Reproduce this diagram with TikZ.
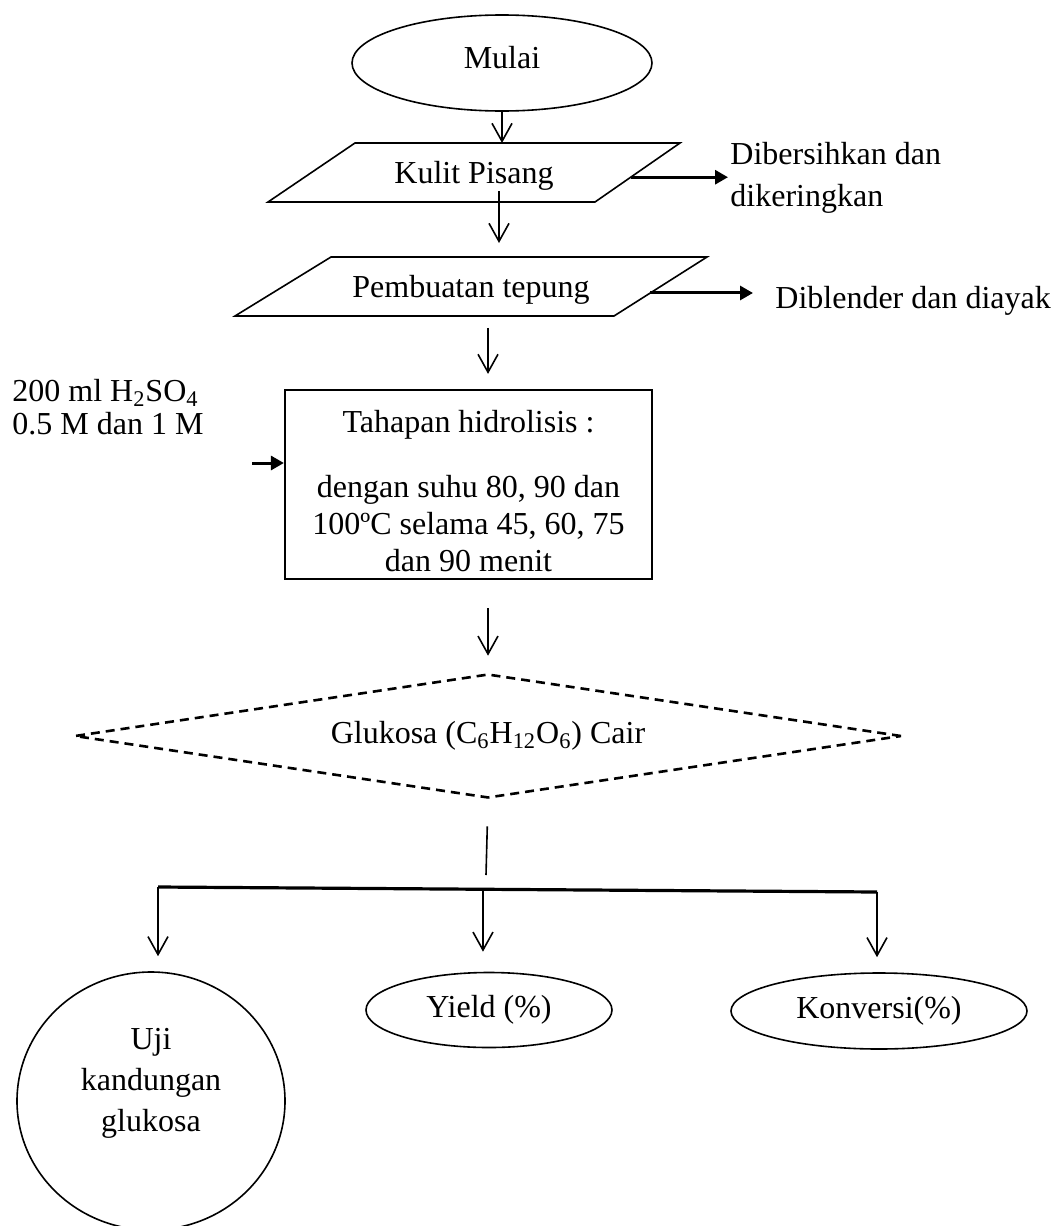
\documentclass[tikz,border=0pt]{standalone}
\usepackage{fontspec}
\setmainfont{Liberation Serif}
\usetikzlibrary{shapes.geometric,arrows.meta,calc}

\tikzset{
  txt/.style={font=\fontsize{16}{21}\selectfont, inner sep=1pt},
  box/.style={draw, line width=0.8pt},
  flow/.style={line width=0.8pt, -{Straight Barb[length=9pt,width=10pt,line width=0.8pt]}},
  side/.style={line width=1.5pt, -{Triangle[length=6.5pt,width=7pt]}},
}

\begin{document}
\begin{tikzpicture}[x=0.5pt,y=0.5pt,yscale=-1,xscale=1]
\useasboundingbox (0,0) rectangle (1051,1226);
\clip (0,0) rectangle (1051,1226);

%Shape: Ellipse
\node[box, ellipse, minimum width=150pt, minimum height=48pt] (mulai) at (502,63) {};
\node[txt] (mulaitxt) at (502,58) {Mulai};

%Shape: Parallelogram
\coordinate (k1) at (355,143);
\coordinate (k2) at (680,143);
\coordinate (k3) at (595,202);
\coordinate (k4) at (268,202);
\draw[box] (k1) -- (k2) -- (k3) -- (k4) -- cycle;
\node[txt] (kulit) at (474,176) {Kulit Pisang};

%Shape: Parallelogram
\coordinate (p1) at (331,257);
\coordinate (p2) at (707,257);
\coordinate (p3) at (614,316);
\coordinate (p4) at (235,316);
\draw[box] (p1) -- (p2) -- (p3) -- (p4) -- cycle;
\node[txt] (tepung) at (471,290) {Pembuatan tepung};

% Text Node
\node[txt, anchor=west, align=left] (bersih) at (728,178) {Dibersihkan dan\\dikeringkan};
% Text Node
\node[txt, anchor=west] (blender) at (773,301) {Diblender dan diayak};
% Text Node
\node[txt, anchor=west, align=left, font=\fontsize{16}{16.5}\selectfont] (asam) at (10,407) {200 ml H\textsubscript{2}SO\textsubscript{4}\\0.5 M dan 1 M};

%Shape: Rectangle
\node[box, line width=1.1pt, minimum width=183.5pt, minimum height=94.5pt] (rect) at (468.5,484.5) {};
\node[txt, align=center, font=\fontsize{16}{18.5}\selectfont] (rtxt) at (468.5,491) {Tahapan hidrolisis :\\[14pt]dengan suhu 80, 90 dan\\100ºC selama 45, 60, 75\\dan 90 menit};

%Shape: Diamond
\node[draw, diamond, dash pattern=on 4.5pt off 3pt, line width=1.3pt, minimum width=413.5pt, minimum height=62pt, shape aspect=6.7, txt, inner sep=0pt] (glukosa) at (488,736) {Glukosa (C\textsubscript{6}H\textsubscript{12}O\textsubscript{6}) Cair};

%Shape: Ellipse
\node[box, ellipse, minimum width=134pt, minimum height=129pt] (uji) at (151,1101) {};
\node[txt, align=center, font=\fontsize{16}{20.5}\selectfont] (ujitxt) at (151,1083) {Uji\\kandungan\\glukosa};
\node[box, ellipse, minimum width=123pt, minimum height=37.5pt, txt] (yield) at (489,1010) {Yield (\%)};
\node[box, ellipse, minimum width=148pt, minimum height=38pt, txt] (konv) at (879,1011) {Konversi(\%)};

%Straight Lines
\coordinate (kr) at ($(k2)!0.58!(k3)$);
\coordinate (pr) at ($(p2)!0.61!(p3)$);
\coordinate (a1) at (499,191);
\coordinate (a0) at (252,463);
\coordinate (bar0) at (486,875);
\coordinate (barL) at (158,887);
\coordinate (barR) at (877,892);
\coordinate (barM) at ($(barL)!0.452!(barR)$);

\draw[flow] (mulai.south) -- (mulai.south |- k1);
\draw[flow, shorten >=7pt] (a1) -- (a1 |- p1);
\draw[flow, shorten <=10.5pt, shorten >=7.5pt] (tepung.south -| glukosa.north) -- (rect.north -| glukosa.north);
\draw[flow, shorten <=14pt, shorten >=8.5pt] (rect.south -| glukosa.north) -- (glukosa.north);
\draw[side] (kr) -- (kr -| bersih.west);
\draw[side, shorten >=10pt] (pr) -- (pr -| blender.west);
\draw[side] (a0) -- (a0 -| rect.west);

\draw[line width=0.8pt, shorten <=13.5pt] (glukosa.south) -- (bar0);
\draw[line width=1.6pt] (barL) -- (barR);
\draw[flow, shorten >=7.5pt] (barL) -- (barL |- uji.north);
\draw[flow, shorten >=10pt] (barM) -- (barM |- yield.north);
\draw[flow, shorten >=7.5pt] (barR) -- (barR |- konv.north);

\end{tikzpicture}
\end{document}
